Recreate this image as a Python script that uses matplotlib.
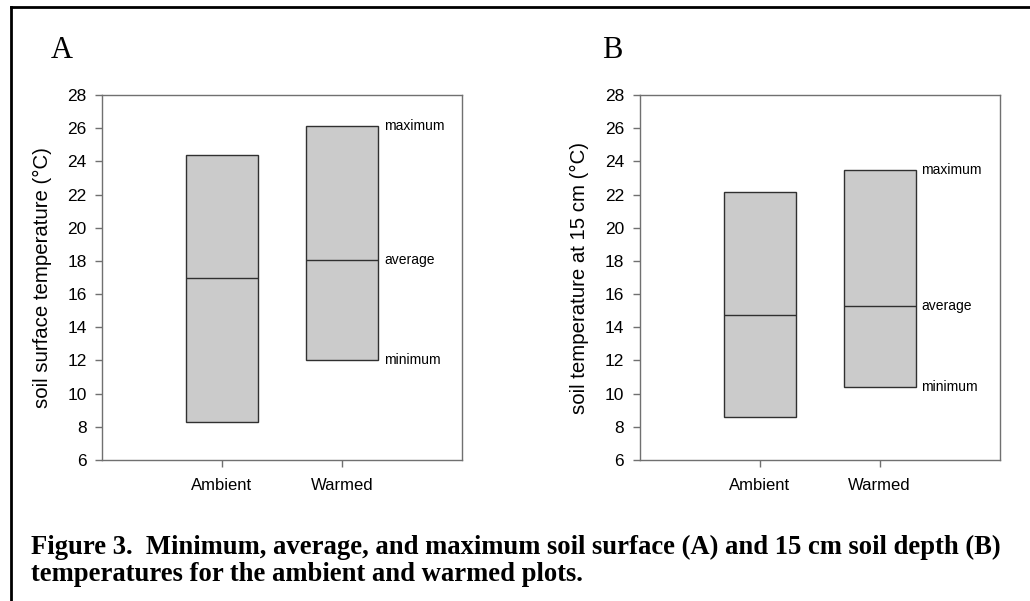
import numpy as np
import matplotlib
matplotlib.use("Agg")
from matplotlib import pyplot as plt
from matplotlib.lines import Line2D

# Data
treatments = ["Ambient", "Warmed"]
surface_min = [8.3, 12.0]
surface_avg = [17.0, 18.05]
surface_max = [24.4, 26.15]
depth_min = [8.6, 10.4]
depth_avg = [14.75, 15.3]
depth_max = [22.15, 23.45]
yticks = list(range(6, 29, 2))

SANS = "Liberation Sans"
SERIF = "Liberation Serif"


def draw_panel(ax, mins, avgs, maxs, ylabel):
    x = np.arange(len(treatments))
    w = 0.6
    mins = np.array(mins)
    maxs = np.array(maxs)
    ax.bar(x, maxs - mins, bottom=mins, width=w, color="#cbcbcb",
           edgecolor="#303030", linewidth=1.0, zorder=2)
    ax.hlines(avgs, x - w / 2, x + w / 2, color="#303030", linewidth=1.0, zorder=3)

    ax.set_xlim(-1, 2)
    ax.set_ylim(6, 28)
    ax.set_yticks(yticks)
    ax.set_xticks(x)
    ax.set_xticklabels(treatments, fontfamily=SANS, fontsize=12)
    for lbl in ax.get_yticklabels():
        lbl.set_fontfamily(SANS)
        lbl.set_fontsize(12.5)
    ax.tick_params(axis="y", direction="out", length=5, width=1, color="#707070", pad=6)
    ax.tick_params(axis="x", direction="out", length=5, width=1, color="#707070", pad=8)
    for s in ax.spines.values():
        s.set_color("#707070")
        s.set_linewidth(1.0)
    ax.set_ylabel(ylabel, fontfamily=SANS, fontsize=14.7)
    ax.yaxis.set_label_coords(-0.14, 0.5)

    # labels next to the warmed bar
    xr = x[-1] + w / 2 + 0.05
    for val, txt in [(maxs[-1], "maximum"), (avgs[-1], "average"), (mins[-1], "minimum")]:
        ax.text(xr, val, txt, fontfamily=SANS, fontsize=10, ha="left", va="center")


fig = plt.figure(figsize=(10.30, 6.01), dpi=100)

axA = fig.add_axes([102 / 1030, 1 - 460 / 601, 360 / 1030, 365 / 601])
axB = fig.add_axes([639.5 / 1030, 1 - 460 / 601, 360 / 1030, 365 / 601])

draw_panel(axA, surface_min, surface_avg, surface_max, "soil surface temperature (°C)")
draw_panel(axB, depth_min, depth_avg, depth_max, "soil temperature at 15 cm (°C)")

fig.text(51 / 1030, 1 - 50 / 601, "A", fontfamily=SERIF, fontsize=22, ha="left", va="center")
fig.text(602 / 1030, 1 - 50 / 601, "B", fontfamily=SERIF, fontsize=22, ha="left", va="center")

caption = ("Figure 3.  Minimum, average, and maximum soil surface (A) and 15 cm soil depth (B)\n"
           "temperatures for the ambient and warmed plots.")
fig.text(31 / 1030, 1 - 535 / 601, caption, fontfamily=SERIF, fontweight="bold",
         fontsize=19.2, ha="left", va="top", linespacing=1.08)

# frame lines on top and left edge
fig.add_artist(Line2D([11 / 1030, 1], [1 - 7 / 601, 1 - 7 / 601], color="black", linewidth=2))
fig.add_artist(Line2D([11 / 1030, 11 / 1030], [0, 1 - 7 / 601], color="black", linewidth=2))

fig.savefig("out.png", dpi=100)
